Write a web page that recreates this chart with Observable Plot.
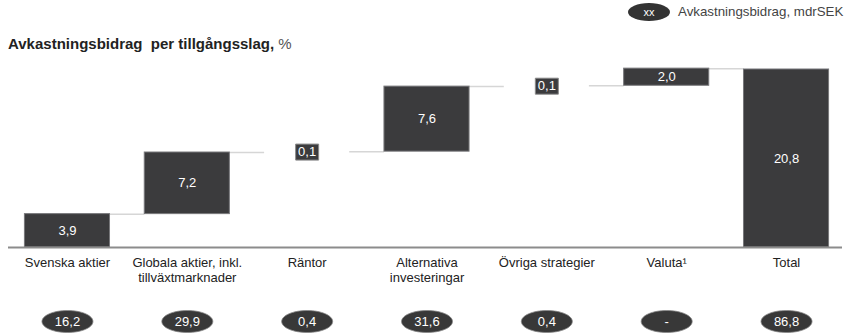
<!DOCTYPE html>
<html>
<head>
<meta charset="utf-8">
<script src="https://cdn.jsdelivr.net/npm/d3@7"></script>
<script src="https://cdn.jsdelivr.net/npm/@observablehq/plot@0.6"></script>
<style>
  body { margin: 0; background: #fff; font-family: "Liberation Sans", Arial, sans-serif; }
  #wrap { width: 849px; }
  #header { position: relative; height: 58px; }
  #title { position: absolute; left: 8px; top: 35px; font-size: 15px; font-weight: bold; color: #222; white-space: nowrap; }
  #title span { font-weight: normal; color: #555; }
  #legendEll { position: absolute; left: 628px; top: 3px; width: 42px; height: 18px; border-radius: 50%; background: #333; color: #fff; font-size: 11px; line-height: 18px; text-align: center; }
  #legendTxt { position: absolute; left: 678px; top: 4px; font-size: 13.3px; color: #444; white-space: nowrap; }
  svg { display: block; }
</style>
</head>
<body>
<div id="wrap">
  <div id="header">
    <div id="legendEll">xx</div>
    <div id="legendTxt">Avkastningsbidrag, mdrSEK</div>
    <div id="title">Avkastningsbidrag&nbsp; per tillgångsslag, <span>%</span></div>
  </div>
  <div id="chart"></div>
  <div id="bottom"></div>
</div>
<script>
const categories = ["Svenska aktier", "Globala aktier, inkl.\ntillväxtmarknader", "Räntor", "Alternativa\ninvesteringar", "Övriga strategier", "Valuta¹", "Total"];
const contributions = [3.9, 7.2, 0.1, 7.6, 0.1, 2.0, 20.8];
const isTotal = [false, false, false, false, false, false, true];
const returnsSEK = [16.2, 29.9, 0.4, 31.6, 0.4, null, 86.8];

const fmt = v => v == null ? "-" : v.toFixed(1).replace(".", ",");
const hw = 0.355; // half bar width in category units

let cum = 0;
const rows = categories.map((label, i) => {
  const v = contributions[i];
  let y1, y2;
  if (isTotal[i]) { y1 = 0; y2 = v; }
  else { y1 = cum; y2 = cum + v; cum = y2; }
  return { i, label, value: v, y1, y2, mid: (y1 + y2) / 2, sek: returnsSEK[i] };
});
const bigBars = rows.filter(d => d.value >= 1);
const smallBars = rows.filter(d => d.value < 1);
const connectors = rows.slice(0, -1).map((d, k) => ({ x1: d.i + hw, x2: rows[k + 1].i - hw, y: d.y2 }));

const rectSymbol = (w, h) => ({ draw(ctx) { ctx.rect(-w / 2, -h / 2, w, h); } });
const ellipseSymbol = (rx, ry) => ({
  draw(ctx) {
    const k = 0.5523;
    ctx.moveTo(rx, 0);
    ctx.bezierCurveTo(rx, k * ry, k * rx, ry, 0, ry);
    ctx.bezierCurveTo(-k * rx, ry, -rx, k * ry, -rx, 0);
    ctx.bezierCurveTo(-rx, -k * ry, -k * rx, -ry, 0, -ry);
    ctx.bezierCurveTo(k * rx, -ry, rx, -k * ry, rx, 0);
    ctx.closePath();
  }
});

const xDomain = [-0.492, 6.467];
const font = "Liberation Sans, Arial, sans-serif";

const chart = Plot.plot({
  width: 849,
  height: 232,
  marginLeft: 8,
  marginRight: 7,
  marginTop: 11,
  marginBottom: 43,
  style: { fontFamily: font, background: "transparent" },
  x: { domain: xDomain, axis: null },
  y: { domain: [0, 20.8], axis: null },
  marks: [
    Plot.ruleY(connectors, { x1: "x1", x2: "x2", y: "y", stroke: "#d6d6d6", strokeWidth: 1.5 }),
    Plot.rectY(bigBars, { x1: d => d.i - hw, x2: d => d.i + hw, y1: "y1", y2: "y2", fill: "#3b3b3d", stroke: "#77777a", strokeWidth: 1 }),
    Plot.text(bigBars, { x: "i", y: "mid", text: d => fmt(d.value), fill: "#fff", fontSize: 13 }),
    Plot.dot(smallBars, { x: "i", y: "mid", symbol: rectSymbol(23, 16), fill: "#3b3b3d", stroke: "#8a8a8a", strokeWidth: 1 }),
    Plot.text(smallBars, { x: "i", y: "mid", text: d => fmt(d.value), fill: "#fff", fontSize: 13 }),
    Plot.ruleY([0], { stroke: "#8c8c8c", strokeWidth: 2 }),
    Plot.text(rows, { x: "i", y: () => 0, text: "label", lineAnchor: "top", dy: 8, lineHeight: 1.2, fontSize: 13, fill: "#222" })
  ]
});
document.getElementById("chart").appendChild(chart);

const bottom = Plot.plot({
  width: 849,
  height: 46,
  marginLeft: 8,
  marginRight: 7,
  marginTop: 20,
  marginBottom: 4,
  style: { fontFamily: font, background: "transparent" },
  x: { domain: xDomain, axis: null },
  marks: [
    Plot.dot(rows, { x: "i", symbol: ellipseSymbol(25.5, 11), fill: "#383838", stroke: "#888", strokeWidth: 0.8 }),
    Plot.text(rows, { x: "i", text: d => fmt(d.sek), fill: "#fff", fontSize: 13, fontFamily: "Liberation Sans Narrow, Liberation Sans, sans-serif" })
  ]
});
document.getElementById("bottom").appendChild(bottom);
</script>
</body>
</html>
